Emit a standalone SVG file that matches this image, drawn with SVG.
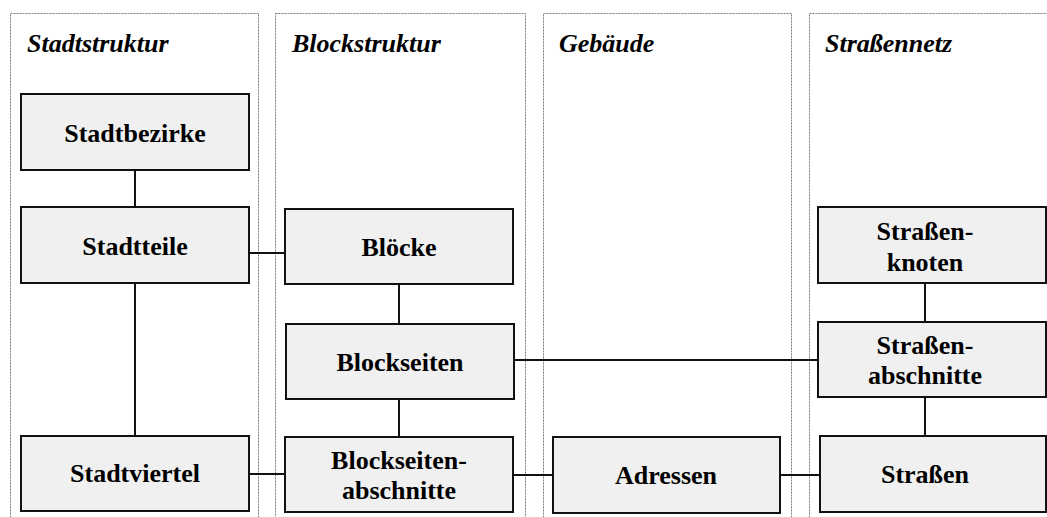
<svg xmlns="http://www.w3.org/2000/svg" width="1047" height="517" viewBox="0 0 1047 517">
<style>
.panel{fill:none;stroke:#7a7a7a;stroke-width:1;stroke-dasharray:2 1}
.box{fill:#f0f0f0;stroke:#111;stroke-width:2}
.lbl{font-family:"Liberation Serif","Times New Roman",serif;font-weight:bold;font-size:26px;fill:#000;text-anchor:middle}
.ttl{font-family:"Liberation Serif","Times New Roman",serif;font-weight:bold;font-style:italic;font-size:26px;fill:#000}
.con{stroke:#111;stroke-width:2;fill:none}
</style>
<rect width="1047" height="517" fill="#fff"/>
<g id="panels">
<rect class="panel" x="10.5" y="13.5" width="248" height="520"/>
<rect class="panel" x="275.5" y="13.5" width="250" height="520"/>
<rect class="panel" x="543.5" y="13.5" width="248" height="520"/>
<rect class="panel" x="809.5" y="13.5" width="260" height="520"/>
<text class="ttl" x="27" y="52">Stadtstruktur</text>
<text class="ttl" x="292" y="52">Blockstruktur</text>
<text class="ttl" x="559" y="52">Gebäude</text>
<text class="ttl" x="825" y="52">Straßennetz</text>
</g>
<g id="connectors">
<line class="con" x1="135" y1="170" x2="135" y2="207"/>
<line class="con" x1="135" y1="283" x2="135" y2="436"/>
<line class="con" x1="249" y1="253" x2="288" y2="253"/>
<line class="con" x1="399" y1="284" x2="399" y2="324"/>
<line class="con" x1="399" y1="399" x2="399" y2="437"/>
<line class="con" x1="514" y1="360" x2="818" y2="360"/>
<line class="con" x1="249" y1="474" x2="288" y2="474"/>
<line class="con" x1="513" y1="475" x2="553" y2="475"/>
<line class="con" x1="780" y1="475" x2="820" y2="475"/>
<line class="con" x1="925" y1="283" x2="925" y2="322"/>
<line class="con" x1="925" y1="397" x2="925" y2="436"/>
</g>
<g id="stadtbezirke"><rect class="box" x="21" y="94" width="228" height="76"/><text class="lbl" x="135" y="142">Stadtbezirke</text></g>
<g id="stadtteile"><rect class="box" x="21" y="207" width="228" height="76"/><text class="lbl" x="135" y="255">Stadtteile</text></g>
<g id="stadtviertel"><rect class="box" x="21" y="436" width="228" height="75"/><text class="lbl" x="135" y="482">Stadtviertel</text></g>
<g id="bloecke"><rect class="box" x="285" y="209" width="228" height="75"/><text class="lbl" x="399" y="256">Blöcke</text></g>
<g id="blockseiten"><rect class="box" x="286" y="324" width="228" height="75"/><text class="lbl" x="400" y="371">Blockseiten</text></g>
<g id="blockseitenabschnitte"><rect class="box" x="285" y="437" width="228" height="75"/><text class="lbl" x="399" y="469">Blockseiten-</text><text class="lbl" x="399" y="499">abschnitte</text></g>
<g id="adressen"><rect class="box" x="553" y="437" width="227" height="76"/><text class="lbl" x="666" y="484">Adressen</text></g>
<g id="strassenknoten"><rect class="box" x="818" y="207" width="228" height="76"/><text class="lbl" x="925" y="240">Straßen-</text><text class="lbl" x="925" y="271">knoten</text></g>
<g id="strassenabschnitte"><rect class="box" x="818" y="322" width="228" height="75"/><text class="lbl" x="925" y="354">Straßen-</text><text class="lbl" x="925" y="384">abschnitte</text></g>
<g id="strassen"><rect class="box" x="820" y="436" width="226" height="76"/><text class="lbl" x="925" y="483">Straßen</text></g>
</svg>
